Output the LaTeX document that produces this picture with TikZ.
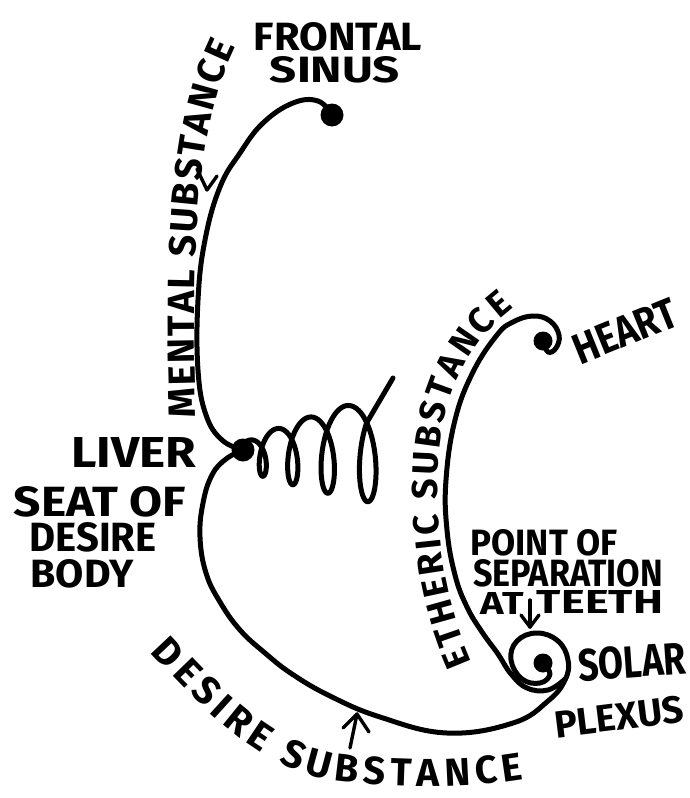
\documentclass[tikz,border=0pt]{standalone}
\usepackage{fontspec}
\setmainfont{Fira Sans}
\usetikzlibrary{decorations.text}
\newcommand{\lbl}[3]{\resizebox{#1pt}{#2pt}{\bfseries #3}}
\begin{document}
\begin{tikzpicture}[x=1pt,y=-1pt,
  inkline/.style={line width=5pt,line cap=round,line join=round},
  arrowmark/.style={line width=3.4pt,line cap=round,line join=round},
  blob/.style={circle,fill=black,inner sep=0pt,minimum size=#1},
  blob/.default=20pt,
  lab/.style={inner sep=0pt,anchor=center}]
\fill[white] (0,0) rectangle (690,798);
\useasboundingbox (0,0) rectangle (690,798);

% dots
\node[blob=23pt] (frontal) at (332,115) {};
\node[blob=23pt] (liver) at (243,450) {};
\node[blob=19pt] (heart) at (543,341) {};
\node[blob=19pt] (solar) at (543,663) {};
\coordinate (coilend) at (393,378);

% mental substance curve
\draw[inkline] plot[smooth,tension=0.7] coordinates {(frontal.center) (318,101) (293,103) (263,123) (240,153) (220,187) (205,240) (198,300) (198,370) (206,415) (222,440) (liver.center)};

% desire substance curve into solar plexus spiral
\draw[inkline] plot[smooth,tension=0.7] coordinates {(liver.center) (226,459) (212,475) (203,503) (200,537) (206,573) (220,602) (240,630) (265,653) (292,674) (330,696) (380,717) (447,733) (513,723) (548,701) (565,680) (568,660) (558,641) (537,633) (517,641) (511,660) (522,679) (540,683) (550,674) (solar.center)};

% etheric substance curve from heart
\draw[inkline] plot[smooth,tension=0.7] coordinates {(heart.center) (548,352) (556,348) (559,335) (550,321) (533,316) (513,322) (497,335) (473,372) (455,420) (446,480) (447,530) (455,575) (467,607) (482,632) (498,654) (511,674) (527,688) (548,690) (565,679)};

% coil
\draw[inkline] (liver.center) -- plot[domain=-40:1380,samples=300,variable=\t] ({250+100*(\t/1440)+40*(\t/1440)^2+(8+11*(\t/1440))*sin(\t)},{456-6*(\t/1440)-(16+40*(\t/1440))*cos(\t)}) -- (coilend);

% labels
\node[lab] (frontalL) at (338,37) {\lbl{168}{28}{FRONTAL}};
\node[lab] (sinusL) at (335,70) {\lbl{130}{26}{SINUS}};
\node[lab,rotate=22] (heartL) at (625,331) {\lbl{108}{30}{HEART}};
\node[lab,rotate=4] (solarL) at (632,662) {\lbl{108}{32}{SOLAR}};
\node[lab,rotate=7] (plexusL) at (619,717) {\lbl{130}{27}{PLEXUS}};
\node[lab] (pointL) at (544,543) {\lbl{147}{26}{POINT OF}};
\node[lab] (sepL) at (568,573) {\lbl{190}{27}{SEPARATION}};
\node[lab] (atL) at (502,603) {\lbl{43}{22}{AT}};
\node[lab] (teethL) at (600,602) {\lbl{126}{23}{TEETH}};
\node[lab] (liverL) at (134,452) {\lbl{125}{30}{LIVER}};
\node[lab] (seatL) at (100,502) {\lbl{172}{30}{SEAT OF}};
\node[lab] (desireL) at (93,537) {\lbl{127}{29}{DESIRE}};
\node[lab] (bodyL) at (82,574) {\lbl{103}{28}{BODY}};

% curved labels
\path[decorate,decoration={text along path,text={|\fontsize{38}{38}\selectfont\bfseries|MENTAL SUBSTANCE},text align={fit to path}}]
  (196,417) .. controls (193,320) and (192,230) .. (205,150) .. controls (212,105) and (222,75) .. (236,46);
\path[decorate,decoration={text along path,text={|\fontsize{36}{36}\selectfont\bfseries|ETHERIC SUBSTANCE},text align={fit to path}}]
  (472,662) .. controls (445,600) and (436,540) .. (438,470) .. controls (440,400) and (465,345) .. (514,308);
\path[decorate,decoration={text along path,text={|\fontsize{39}{39}\selectfont\bfseries|DESIRE SUBSTANCE},text align={fit to path}}]
  (150,652) .. controls (210,716) and (258,766) .. (330,780) .. controls (400,790) and (470,788) .. (524,779);

% small arrows
\coordinate (ma1) at (197,169);
\coordinate (ma2) at (207,190);
\coordinate (ma3) at (217,176);
\draw[arrowmark] (ma1) -- (ma2) -- (ma3);
\coordinate (da0) at (350,748);
\coordinate (da1) at (343,728);
\coordinate (da2) at (357,714);
\coordinate (da3) at (369,732);
\draw[arrowmark] (da0) -- (da2);
\draw[arrowmark] (da1) -- (da2) -- (da3);
\coordinate (pa0) at (530,600);
\coordinate (pa1) at (521,615);
\coordinate (pa2) at (530,627);
\coordinate (pa3) at (539,615);
\draw[arrowmark] (pa0) -- (pa2);
\draw[arrowmark] (pa1) -- (pa2) -- (pa3);
\end{tikzpicture}
\end{document}
